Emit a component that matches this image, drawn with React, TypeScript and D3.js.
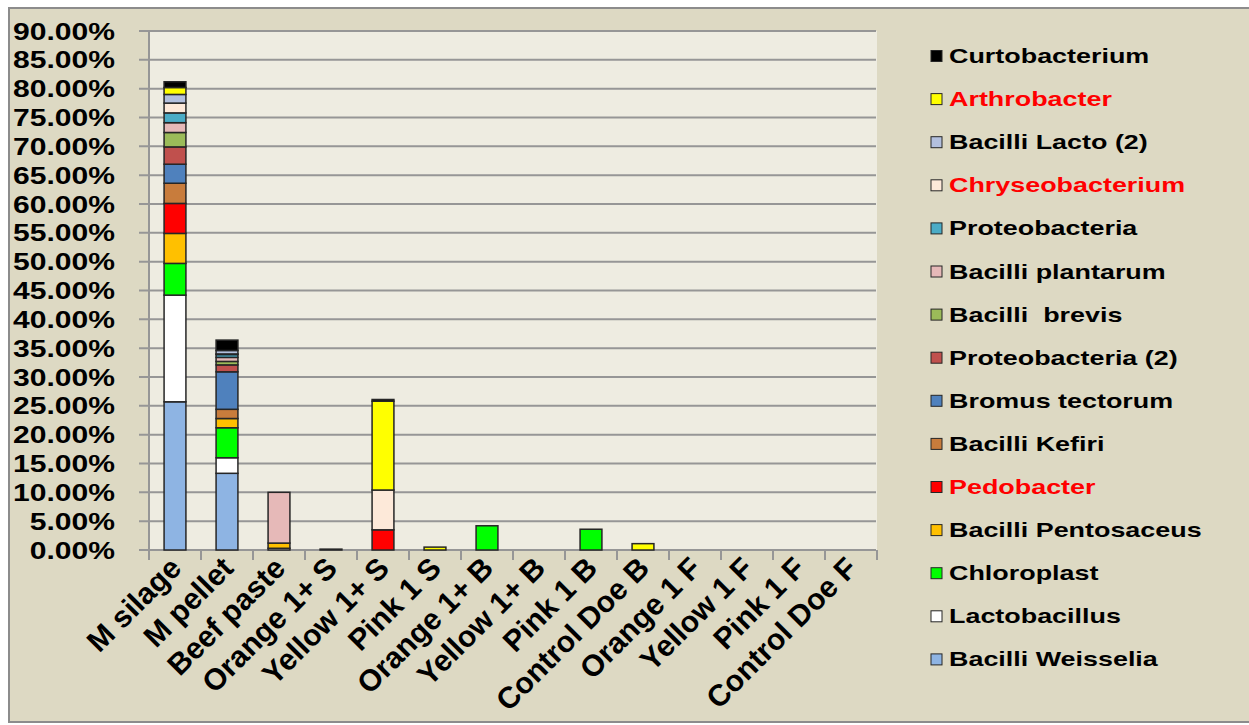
import React from "react";
import * as d3 from "d3";

const categories = ["M silage", "M pellet", "Beef paste", "Orange 1+ S", "Yellow 1+ S", "Pink 1 S", "Orange 1+ B", "Yellow 1+ B", "Pink 1 B", "Control Doe B", "Orange 1 F", "Yellow 1 F", "Pink 1 F", "Control Doe F"];

// values in percent, per category
const bacilliWeisselia = [25.7, 13.3, 0, 0, 0, 0, 0, 0, 0, 0, 0, 0, 0, 0];
const lactobacillus = [18.5, 2.7, 0.3, 0, 0, 0, 0, 0, 0, 0, 0, 0, 0, 0];
const chloroplast = [5.5, 5.2, 0, 0, 0, 0, 4.2, 0, 3.6, 0, 0, 0, 0, 0];
const bacilliPentosaceus = [5.2, 1.6, 0.9, 0, 0, 0, 0, 0, 0, 0, 0, 0, 0, 0];
const pedobacter = [5.2, 0, 0, 0, 3.5, 0, 0, 0, 0, 0, 0, 0, 0, 0];
const bacilliKefiri = [3.5, 1.6, 0, 0, 0, 0, 0, 0, 0, 0, 0, 0, 0, 0];
const bromusTectorum = [3.3, 6.5, 0, 0, 0, 0, 0, 0, 0, 0, 0, 0, 0, 0];
const proteobacteria2 = [3.0, 1.2, 0, 0, 0, 0, 0, 0, 0, 0, 0, 0, 0, 0];
const bacilliBrevis = [2.5, 0.6, 0, 0, 0, 0, 0, 0, 0, 0, 0, 0, 0, 0];
const bacilliPlantarum = [1.7, 0.7, 8.8, 0, 0, 0, 0, 0, 0, 0, 0, 0, 0, 0];
const proteobacteria = [1.7, 0.5, 0, 0, 0, 0, 0, 0, 0, 0, 0, 0, 0, 0];
const chryseobacterium = [1.7, 0.1, 0, 0, 6.9, 0, 0, 0, 0, 0, 0, 0, 0, 0];
const bacilliLacto2 = [1.5, 0.6, 0, 0, 0, 0, 0, 0, 0, 0, 0, 0, 0, 0];
const arthrobacter = [1.2, 0, 0, 0, 15.4, 0.5, 0, 0, 0, 1.1, 0, 0, 0, 0];
const curtobacterium = [1.0, 1.8, 0, 0.15, 0.3, 0, 0, 0, 0, 0, 0, 0, 0, 0];

const yTicks = [0, 5, 10, 15, 20, 25, 30, 35, 40, 45, 50, 55, 60, 65, 70, 75, 80, 85, 90];

// bottom to top stacking order
const series = [
  { name: "Bacilli Weisselia", values: bacilliWeisselia, color: "#8EB4E3", red: false },
  { name: "Lactobacillus", values: lactobacillus, color: "#FFFFFF", red: false },
  { name: "Chloroplast", values: chloroplast, color: "#00FF00", red: false },
  { name: "Bacilli Pentosaceus", values: bacilliPentosaceus, color: "#FFC000", red: false },
  { name: "Pedobacter", values: pedobacter, color: "#FF0000", red: true },
  { name: "Bacilli Kefiri", values: bacilliKefiri, color: "#C87C3C", red: false },
  { name: "Bromus tectorum", values: bromusTectorum, color: "#4F81BD", red: false },
  { name: "Proteobacteria (2)", values: proteobacteria2, color: "#C0504D", red: false },
  { name: "Bacilli  brevis", values: bacilliBrevis, color: "#9BBB59", red: false },
  { name: "Bacilli plantarum", values: bacilliPlantarum, color: "#E6B9B8", red: false },
  { name: "Proteobacteria", values: proteobacteria, color: "#4BACC6", red: false },
  { name: "Chryseobacterium", values: chryseobacterium, color: "#FDE9D9", red: true },
  { name: "Bacilli Lacto (2)", values: bacilliLacto2, color: "#B3C0DE", red: false },
  { name: "Arthrobacter", values: arthrobacter, color: "#FFFF00", red: true },
  { name: "Curtobacterium", values: curtobacterium, color: "#000000", red: false },
];

export default function App() {
  const W = 1249, H = 725;
  const left = 149, right = 877, top = 31, bottom = 550;
  const x = d3.scaleBand<string>().domain(categories).range([left, right]).paddingInner(0.58).paddingOuter(0.29);
  const y = d3.scaleLinear().domain([0, 90]).range([bottom, top]);

  const rows = categories.map((c, i) => {
    const r: any = { cat: c };
    series.forEach((s) => (r[s.name] = s.values[i]));
    return r;
  });
  const stacked = d3.stack<any>().keys(series.map((s) => s.name))(rows);

  const step = x.step();
  const boundaries = d3.range(categories.length + 1).map((i) => left + i * step);
  const font = "'Liberation Sans', Arial, sans-serif";
  const legendTop = 56, legendStep = 43.1;

  return (
    <svg width={W} height={H} style={{ position: "absolute", left: 0, top: 0 }} fontFamily={font}>
      <rect x={0} y={0} width={W} height={H} fill="#FFFFFF" />
      <rect x={9} y={8} width={W} height={714} fill="#DDD9C3" stroke="#8C8C8C" strokeWidth={2} />
      <rect x={left} y={top} width={right - left} height={bottom - top} fill="#EEECE1" />
      {yTicks.map((t) => (
        <line key={"g" + t} x1={left - 10} x2={right - 1} y1={y(t)} y2={y(t)} stroke="#969696" strokeWidth={2} />
      ))}
      <line x1={left} x2={left} y1={top} y2={bottom} stroke="#969696" strokeWidth={2} />
      {boundaries.map((b, i) => (
        <line key={"bt" + i} x1={b} x2={b} y1={bottom} y2={bottom + 10} stroke="#969696" strokeWidth={2} />
      ))}
      {yTicks.map((t) => (
        <g key={"yl" + t} transform={`translate(115, ${y(t) + 8.5}) scale(1.28,1)`}>
          <text textAnchor="end" fontSize={23.5} fontWeight="bold" fill="#000">
            {t.toFixed(2) + "%"}
          </text>
        </g>
      ))}
      {stacked.map((layer, li) => (
        <g key={"s" + li}>
          {layer.map((d, i) => {
            if (d[1] - d[0] <= 0) return null;
            return (
              <rect
                key={i}
                x={x(categories[i])!}
                width={x.bandwidth()}
                y={y(d[1])}
                height={y(d[0]) - y(d[1])}
                fill={series[li].color}
                stroke="#262626"
                strokeWidth={1.5}
              />
            );
          })}
        </g>
      ))}
      {categories.map((c) => {
        const cx = x(c)! + x.bandwidth() / 2 + 8;
        return (
          <text key={"xl" + c} transform={`translate(${cx}, 570) rotate(-45)`} textAnchor="end" fontSize={30} fontWeight="bold" fill="#000">
            {c}
          </text>
        );
      })}
      {series.slice().reverse().map((s, i) => {
        const cy = legendTop + i * legendStep;
        return (
          <g key={"lg" + s.name}>
            <rect x={931} y={cy - 5.5} width={11} height={11} fill={s.color} stroke="#262626" strokeWidth={1} />
            <g transform={`translate(949, ${cy + 7}) scale(1.38,1)`}>
              <text fontSize={19.5} fontWeight="bold" fill={s.red ? "#FF0000" : "#000"} style={{ whiteSpace: "pre" }}>
                {s.name}
              </text>
            </g>
          </g>
        );
      })}
    </svg>
  );
}
